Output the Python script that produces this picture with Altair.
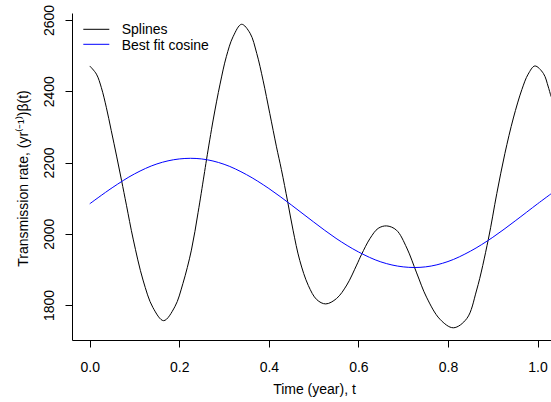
import altair as alt
import pandas as pd

# ---- data ----
spline_t = [0.000, 0.015, 0.026, 0.037, 0.048, 0.060, 0.071, 0.082, 0.097, 0.119,
            0.141, 0.165, 0.190, 0.208, 0.227, 0.242, 0.255, 0.261, 0.276, 0.291,
            0.305, 0.320, 0.339, 0.358, 0.373, 0.387, 0.402, 0.417, 0.428, 0.442,
            0.454, 0.469, 0.488, 0.507, 0.527, 0.551, 0.574, 0.596, 0.607, 0.626,
            0.644, 0.663, 0.685, 0.708, 0.730, 0.752, 0.782, 0.812, 0.842, 0.864,
            0.890, 0.909, 0.927, 0.946, 0.965, 0.979, 0.994, 1.013, 1.024, 1.030]
spline_v = [2471, 2448, 2410, 2355, 2290, 2218, 2150, 2080, 1985, 1870,
            1793, 1756, 1795, 1860, 1954, 2060, 2162, 2210, 2322, 2420,
            2497, 2553, 2588, 2563, 2506, 2431, 2338, 2244, 2180, 2090,
            2010, 1925, 1855, 1815, 1803, 1818, 1856, 1912, 1942, 1987,
            2015, 2022, 2010, 1960, 1890, 1822, 1760, 1736, 1762, 1842,
            1984, 2113, 2225, 2325, 2405, 2448, 2471, 2450, 2412, 2385]

cosine_t = [0.00, 0.05, 0.10, 0.15, 0.20, 0.25, 0.30, 0.35, 0.40, 0.45, 0.50,
            0.55, 0.60, 0.65, 0.70, 0.75, 0.80, 0.85, 0.90, 0.95, 1.00, 1.03]
cosine_v = [2084, 2129, 2168, 2196, 2210, 2210, 2195, 2166, 2127, 2081, 2033,
            1987, 1949, 1921, 1907, 1907, 1922, 1951, 1990, 2036, 2084, 2112]

legend_labels = ["Splines", "Best fit cosine"]
series_colors = ["#000000", "#0000FF"]
x_ticks = [0.0, 0.2, 0.4, 0.6, 0.8, 1.0]
y_ticks = [1800, 2000, 2200, 2400, 2600]

FONT = "Liberation Sans"

df_spline = pd.DataFrame({"t": spline_t, "v": spline_v})
df_cos = pd.DataFrame({"t": cosine_t, "v": cosine_v})

x_enc = alt.X(
    "t:Q",
    scale=alt.Scale(domain=[-0.0396, 1.03], nice=False, zero=False),
    axis=alt.Axis(
        values=x_ticks, format=".1f", title="Time (year), t",
        labelBaseline="alphabetic", labelAlign="center", labelPadding=24.5,
        titleX=242, titleY=53.5, titleAlign="center", titleBaseline="alphabetic",
    ),
)
y_enc = alt.Y(
    "v:Q",
    scale=alt.Scale(domain=[1701.7, 2619.7], nice=False, zero=False),
    axis=alt.Axis(
        values=y_ticks, format="d", title="Transmission rate, (yr⁽⁻¹⁾)β(t)",
        labelAngle=270, labelAlign="center", labelBaseline="alphabetic", labelPadding=11.7,
        titleAngle=270, titleX=-45, titleY=165, titleAlign="center", titleBaseline="alphabetic",
    ),
)

spline = alt.Chart(df_spline).mark_line(
    color=series_colors[0], strokeWidth=1, interpolate="catmull-rom", clip=True
).encode(x=x_enc, y=y_enc)

cosine = alt.Chart(df_cos).mark_line(
    color=series_colors[1], strokeWidth=1, interpolate="catmull-rom", clip=True
).encode(x="t:Q", y="v:Q")

dummy = alt.Data(values=[{}])
leg_layers = []
for i, (lab, col) in enumerate(zip(legend_labels, series_colors)):
    yline = 16.3 + i * 15
    leg_layers.append(
        alt.Chart(dummy).mark_rule(color=col, strokeWidth=1).encode(
            x=alt.value(11.3), x2=alt.value(37.3), y=alt.value(yline)
        )
    )
    leg_layers.append(
        alt.Chart(dummy).mark_text(
            align="left", baseline="alphabetic", font=FONT, fontSize=14, color="#000000"
        ).encode(x=alt.value(49.7), y=alt.value(21 + i * 15.5), text=alt.value(lab))
    )

chart = alt.layer(spline, cosine, *leg_layers).properties(
    width=479, height=327,
    padding={"left": 72, "top": 13, "right": 0, "bottom": 62},
    autosize=alt.AutoSizeParams(type="none"),
    background="white",
).configure_view(stroke=None).configure_axis(
    grid=False, domainColor="#000000", domainWidth=1, tickColor="#000000", tickWidth=1,
    tickSize=7, labelColor="#000000", labelFont=FONT, labelFontSize=14,
    titleColor="#000000", titleFont=FONT, titleFontSize=14, titleFontWeight="normal",
)

chart.save("out.html", embed_options={"renderer": "svg", "actions": False})
